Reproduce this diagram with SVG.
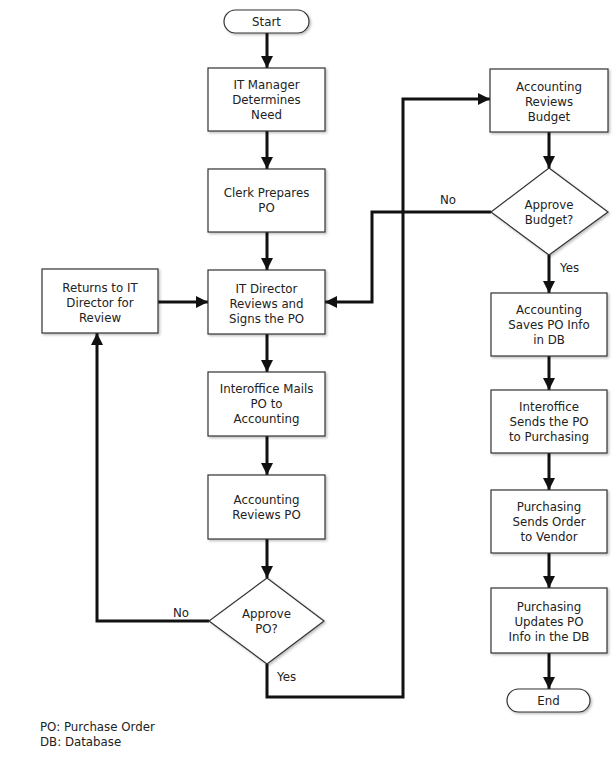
<svg xmlns="http://www.w3.org/2000/svg" width="615" height="760" viewBox="0 0 615 760">
<defs>
<filter id="sh" x="-10%" y="-10%" width="130%" height="130%">
<feDropShadow dx="1.5" dy="1.5" stdDeviation="1.2" flood-color="#000" flood-opacity="0.25"/>
</filter>
<marker id="ah" viewBox="0 0 12 12" refX="12" refY="6" markerWidth="12" markerHeight="12" markerUnits="userSpaceOnUse" orient="auto">
<path d="M0,0 L12,6 L0,12 z" fill="#111"/>
</marker>
</defs>
<style>
.box{fill:#fff;stroke:#333;stroke-width:1.2;filter:url(#sh)}
.t{font-family:"DejaVu Sans","Liberation Sans",sans-serif;font-size:11.8px;fill:#222;text-anchor:middle}
.lbl{font-family:"DejaVu Sans","Liberation Sans",sans-serif;font-size:11.8px;fill:#222}
.c{fill:none;stroke:#111;stroke-width:3;marker-end:url(#ah)}
.cn{fill:none;stroke:#111;stroke-width:3}
</style>
<rect width="615" height="760" fill="#fff"/>
<g id="connectors">
<path class="c" d="M267,33 V68"/>
<path class="c" d="M267,131 V169"/>
<path class="c" d="M267,232 V270"/>
<path class="c" d="M158,302 H208"/>
<path class="c" d="M267,334 V372"/>
<path class="c" d="M267,436 V475"/>
<path class="c" d="M267,539 V578"/>
<path class="c" d="M209,621 H97 V333"/>
<path class="c" d="M267,664 V697 H403 V99 H490"/>
<path class="c" d="M549,132 V168"/>
<path class="c" d="M491,212 H372 V302 H325"/>
<path class="c" d="M549,255 V293"/>
<path class="c" d="M549,356 V390"/>
<path class="c" d="M549,453 V490"/>
<path class="c" d="M549,553 V588"/>
<path class="c" d="M549,653 V689"/>
<text class="lbl" x="173" y="617">No</text>
<text class="lbl" x="277" y="681">Yes</text>
<text class="lbl" x="440" y="204">No</text>
<text class="lbl" x="560" y="272">Yes</text>
</g>
<g id="start">
<rect class="box" x="224" y="10" width="85" height="23" rx="11.5"/>
<text class="t" x="266.5" y="26">Start</text>
</g>
<g id="it-manager">
<rect class="box" x="208" y="68" width="117" height="63"/>
<text class="t" x="266.5" y="89">IT Manager</text>
<text class="t" x="266.5" y="104">Determines</text>
<text class="t" x="266.5" y="119">Need</text>
</g>
<g id="clerk">
<rect class="box" x="208" y="169" width="117" height="63"/>
<text class="t" x="266.5" y="197">Clerk Prepares</text>
<text class="t" x="266.5" y="212">PO</text>
</g>
<g id="it-director">
<rect class="box" x="208" y="270" width="117" height="64"/>
<text class="t" x="266.5" y="293">IT Director</text>
<text class="t" x="266.5" y="308">Reviews and</text>
<text class="t" x="266.5" y="323">Signs the PO</text>
</g>
<g id="returns">
<rect class="box" x="42" y="269" width="116" height="64"/>
<text class="t" x="100" y="292">Returns to IT</text>
<text class="t" x="100" y="307">Director for</text>
<text class="t" x="100" y="322">Review</text>
</g>
<g id="interoffice-mails">
<rect class="box" x="208" y="372" width="117" height="64"/>
<text class="t" x="266.5" y="393">Interoffice Mails</text>
<text class="t" x="266.5" y="408">PO to</text>
<text class="t" x="266.5" y="423">Accounting</text>
</g>
<g id="accounting-reviews-po">
<rect class="box" x="208" y="475" width="117" height="64"/>
<text class="t" x="266.5" y="504">Accounting</text>
<text class="t" x="266.5" y="519">Reviews PO</text>
</g>
<g id="approve-po">
<polygon class="box" points="267,578 324,621 267,664 209,621"/>
<text class="t" x="266.5" y="618">Approve</text>
<text class="t" x="266.5" y="633">PO?</text>
</g>
<g id="accounting-reviews-budget">
<rect class="box" x="490" y="69" width="118" height="63"/>
<text class="t" x="549" y="91">Accounting</text>
<text class="t" x="549" y="106">Reviews</text>
<text class="t" x="549" y="121">Budget</text>
</g>
<g id="approve-budget">
<polygon class="box" points="549,168 608,212 549,255 491,212"/>
<text class="t" x="549" y="209">Approve</text>
<text class="t" x="549" y="224">Budget?</text>
</g>
<g id="accounting-saves">
<rect class="box" x="491" y="293" width="116" height="63"/>
<text class="t" x="549" y="314">Accounting</text>
<text class="t" x="549" y="329">Saves PO Info</text>
<text class="t" x="549" y="344">in DB</text>
</g>
<g id="interoffice-sends">
<rect class="box" x="491" y="390" width="116" height="63"/>
<text class="t" x="549" y="411">Interoffice</text>
<text class="t" x="549" y="426">Sends the PO</text>
<text class="t" x="549" y="441">to Purchasing</text>
</g>
<g id="purchasing-sends">
<rect class="box" x="491" y="490" width="116" height="63"/>
<text class="t" x="549" y="511">Purchasing</text>
<text class="t" x="549" y="526">Sends Order</text>
<text class="t" x="549" y="541">to Vendor</text>
</g>
<g id="purchasing-updates">
<rect class="box" x="491" y="588" width="116" height="65"/>
<text class="t" x="549" y="611">Purchasing</text>
<text class="t" x="549" y="626">Updates PO</text>
<text class="t" x="549" y="641">Info in the DB</text>
</g>
<g id="end">
<rect class="box" x="507" y="689" width="83" height="23" rx="11.5"/>
<text class="t" x="548.5" y="705">End</text>
</g>
<g id="legend">
<text class="lbl" x="40" y="731">PO: Purchase Order</text>
<text class="lbl" x="40" y="746">DB: Database</text>
</g>
</svg>
